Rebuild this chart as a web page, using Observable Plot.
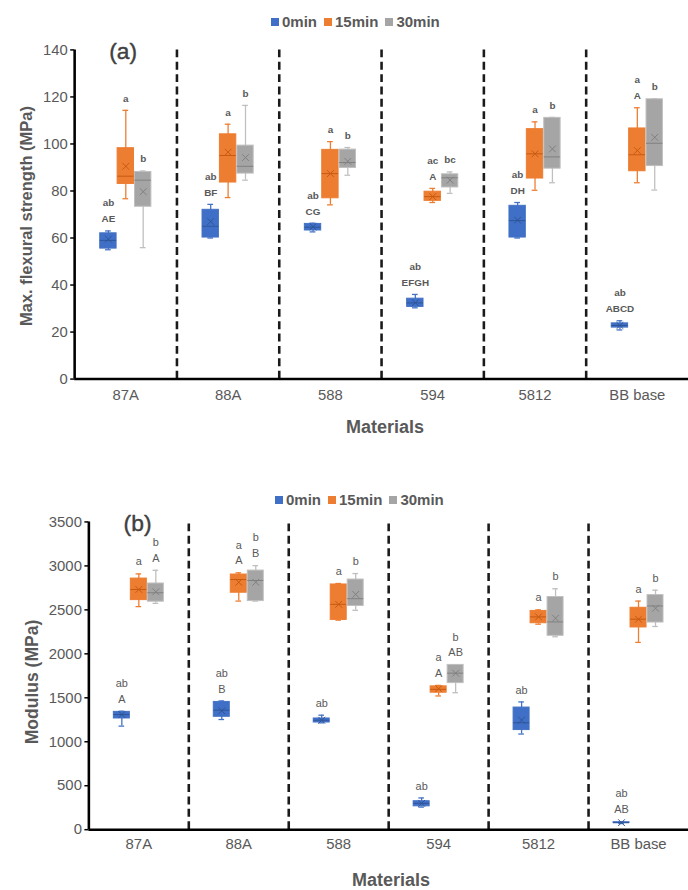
<!DOCTYPE html>
<html>
<head>
<meta charset="utf-8">
<script src="https://cdn.jsdelivr.net/npm/d3@7"></script>
<script src="https://cdn.jsdelivr.net/npm/@observablehq/plot@0.6"></script>
<style>
  html, body { margin: 0; padding: 0; background: #fff; overflow: hidden; }
  #wrap { position: relative; width: 688px; height: 890px; overflow: hidden; font-family: "Liberation Sans", Arial, sans-serif; }
  #wrap svg { display: block; }
  .legend { position: absolute; display: flex; align-items: center; font-weight: bold; font-size: 15px; color: #595959; white-space: nowrap; }
  .legend .item { display: flex; align-items: center; margin-right: 7px; }
  .legend .sw { width: 8px; height: 8px; margin-right: 3px; }
  .title { position: absolute; font-weight: bold; color: #595959; white-space: nowrap; transform: translate(-50%, -50%); }
  .ytitle { position: absolute; font-weight: bold; color: #595959; white-space: nowrap; transform: translate(-50%, -50%) rotate(-90deg); }
  svg g[aria-label="y-axis tick"] { stroke: #000; stroke-width: 1.5; }
  svg g[aria-label="y-axis"] line { stroke: #000; stroke-width: 1.5; }
</style>
</head>
<body>
<div id="wrap"></div>
<script>
// ---------- categories & series ----------
const materials = ["87A", "88A", "588", "594", "5812", "BB base"];
const seriesNames = ["0min", "15min", "30min"];
const seriesFill = ["#3F6FC6", "#ED7D31", "#A5A5A5"];
const seriesEdge = ["#4472C4", "#ED7D31", "#BFBFBF"];
const seriesMid = ["#2F5597", "#C55A11", "#808080"];

// ---------- (a) Max. flexural strength (MPa) ----------
const flexTicks = [0, 20, 40, 60, 80, 100, 120, 140];
// each row: [low whisker, Q1, median, Q3, high whisker, mean] per material
const flex0min = [
  [55.0, 55.5, 59.0, 62.0, 63.0, 59.5],
  [60.0, 60.2, 65.0, 72.0, 74.3, 67.0],
  [62.6, 63.2, 64.6, 66.0, 66.3, 64.8],
  [30.3, 30.7, 32.4, 34.2, 36.0, 32.5],
  [60.0, 60.2, 67.4, 73.7, 75.1, 67.6],
  [20.9, 21.9, 22.8, 23.7, 24.8, 22.8]
];
const flex15min = [
  [76.7, 83.0, 86.3, 98.2, 114.3, 90.5],
  [77.2, 83.6, 95.1, 104.1, 108.4, 96.5],
  [74.1, 76.9, 87.4, 97.5, 101.0, 87.4],
  [75.1, 75.8, 77.6, 79.7, 81.1, 77.6],
  [80.3, 85.3, 95.8, 106.3, 109.4, 95.8],
  [83.5, 88.4, 95.4, 106.6, 115.4, 97.2]
];
const flex30min = [
  [55.9, 73.3, 84.6, 88.1, 88.5, 79.7],
  [84.6, 87.4, 90.5, 99.3, 116.4, 94.2],
  [86.7, 89.8, 92.1, 97.6, 98.5, 92.6],
  [79.0, 81.5, 85.6, 87.1, 88.1, 84.6],
  [83.5, 89.5, 94.5, 111.1, 111.3, 97.9],
  [80.4, 90.6, 100.3, 119.0, 119.2, 102.8]
];
const flexLetters0min = [["ab", "AE"], ["ab", "BF"], ["ab", "CG"], ["ab", "EFGH"], ["ab", "DH"], ["ab", "ABCD"]];
const flexLetters15min = [["a"], ["a"], ["a"], ["ac", "A"], ["a"], ["a", "A"]];
const flexLetters30min = [["b"], ["b"], ["b"], ["bc"], ["b"], ["b"]];

// ---------- (b) Modulus (MPa) ----------
const modTicks = [0, 500, 1000, 1500, 2000, 2500, 3000, 3500];
const mod0min = [
  [1178, 1265, 1310, 1340, 1347, 1310],
  [1253, 1284, 1359, 1453, 1464, 1352],
  [1215, 1219, 1245, 1265, 1302, 1245],
  [257, 266, 300, 324, 361, 300],
  [1088, 1133, 1216, 1389, 1453, 1246],
  [70, 75, 80, 85, 90, 80]
];
const mod15min = [
  [2537, 2611, 2732, 2856, 2909, 2732],
  [2600, 2695, 2845, 2902, 2921, 2814],
  [2383, 2386, 2563, 2789, 2800, 2563],
  [1521, 1558, 1596, 1630, 1641, 1603],
  [2337, 2348, 2420, 2488, 2500, 2420],
  [2130, 2300, 2394, 2524, 2600, 2394]
];
const mod30min = [
  [2574, 2593, 2695, 2800, 2950, 2706],
  [2600, 2600, 2834, 2947, 3003, 2814],
  [2495, 2544, 2627, 2845, 2913, 2676],
  [1558, 1667, 1780, 1874, 1874, 1780],
  [2194, 2205, 2363, 2646, 2740, 2405],
  [2311, 2356, 2544, 2668, 2724, 2518]
];
const modLetters0min = [["ab", "A"], ["ab", "B"], ["ab"], ["ab"], ["ab"], ["ab", "AB"]];
const modLetters15min = [["a"], ["a", "A"], ["a"], ["a", "A"], ["a"], ["a"]];
const modLetters30min = [["b", "A"], ["b", "B"], ["b"], ["b", "AB"], ["b"], ["b"]];

// ---------- layout constants ----------
const OFFSET = [-0.17, 0, 0.17];
const HALF = 0.08;
const CAP = 0.028;

function boxMarks(statsBySeries, lettersBySeries, letterFont) {
  const marks = [];
  statsBySeries.forEach((stats, si) => {
    const data = stats.map((r, mi) => ({
      x: mi + OFFSET[si], lo: r[0], q1: r[1], med: r[2], q3: r[3], hi: r[4], mean: r[5],
      l1: lettersBySeries[si][mi][0], l2: lettersBySeries[si][mi][1]
    }));
    marks.push(
      Plot.ruleX(data, {x: "x", y1: "lo", y2: "hi", stroke: seriesEdge[si], strokeWidth: 1.3}),
      Plot.ruleY(data, {y: "hi", x1: d => d.x - CAP, x2: d => d.x + CAP, stroke: seriesEdge[si], strokeWidth: 1.3}),
      Plot.ruleY(data, {y: "lo", x1: d => d.x - CAP, x2: d => d.x + CAP, stroke: seriesEdge[si], strokeWidth: 1.3}),
      Plot.rectY(data, {x1: d => d.x - HALF, x2: d => d.x + HALF, y1: "q1", y2: "q3", fill: seriesFill[si], stroke: seriesEdge[si], strokeWidth: 1}),
      Plot.ruleY(data, {y: "med", x1: d => d.x - HALF, x2: d => d.x + HALF, stroke: seriesMid[si], strokeWidth: 1}),
      Plot.dot(data, {x: "x", y: "mean", symbol: "times", r: 3.2, stroke: seriesMid[si], strokeWidth: 1}),
      Plot.text(data, {x: "x", y: "hi", text: d => d.l2 ?? d.l1, dy: -12, fill: "#595959", ...letterFont}),
      Plot.text(data.filter(d => d.l2), {x: "x", y: "hi", text: "l1", dy: -28, fill: "#595959", ...letterFont})
    );
  });
  return marks;
}

function chart({width, height, marginTop, marginBottom, marginLeft, yMax, yTicks, stats, letters, letterFont, panel, tickPad}) {
  const dividers = materials.slice(1).map((_, i) => i + 0.5);
  return Plot.plot({
    width, height, marginTop, marginBottom, marginLeft, marginRight: 0,
    style: {fontFamily: "'Liberation Sans', Arial, sans-serif", fontSize: "15px", color: "#595959", background: "#fff", overflow: "visible"},
    x: {domain: [-0.5, materials.length - 0.5], ticks: materials.map((_, i) => i), tickFormat: i => materials[i], tickSize: 0, tickPadding: tickPad, label: null},
    y: {domain: [0, yMax], ticks: yTicks, tickFormat: d => String(d), tickSize: 4, tickPadding: 3, label: null},
    marks: [
      Plot.ruleX(dividers, {x: d => d, y1: 0, y2: yMax, stroke: "#1a1a1a", strokeWidth: 2.6, strokeDasharray: "8,4.5"}),
      ...boxMarks(stats, letters, letterFont),
      Plot.ruleX([-0.5], {y1: 0, y2: yMax, stroke: "#000", strokeWidth: 2.6}),
      Plot.ruleY([0], {stroke: "#000", strokeWidth: 2.6}),
      Plot.text([panel], {frameAnchor: "top-left", dx: 35, dy: -7, fontSize: 23, fill: "#404040", stroke: "#404040", strokeWidth: 0.4, textAnchor: "start", lineAnchor: "top"})
    ]
  });
}

const wrap = document.getElementById("wrap");

const chartA = chart({
  width: 696, height: 450, marginTop: 50, marginBottom: 67, marginLeft: 75,
  yMax: 140, yTicks: flexTicks,
  stats: [flex0min, flex15min, flex30min],
  letters: [flexLetters0min, flexLetters15min, flexLetters30min],
  letterFont: {fontSize: 10, fontWeight: "bold"}, panel: "(a)", tickPad: 11
});
const chartB = chart({
  width: 693, height: 440, marginTop: 77, marginBottom: 53, marginLeft: 89,
  yMax: 3500, yTicks: modTicks,
  stats: [mod0min, mod15min, mod30min],
  letters: [modLetters0min, modLetters15min, modLetters30min],
  letterFont: {fontSize: 11}, panel: "(b)", tickPad: 9
});
wrap.appendChild(chartA);
wrap.appendChild(chartB);

function legend(left, top) {
  const div = document.createElement("div");
  div.className = "legend";
  div.style.left = left + "px";
  div.style.top = top + "px";
  seriesNames.forEach((name, i) => {
    const item = document.createElement("span");
    item.className = "item";
    const sw = document.createElement("span");
    sw.className = "sw";
    sw.style.background = seriesFill[i];
    item.appendChild(sw);
    item.appendChild(document.createTextNode(name));
    div.appendChild(item);
  });
  wrap.appendChild(div);
}
legend(271, 13);
legend(275, 491);

function label(cls, text, x, y, size) {
  const d = document.createElement("div");
  d.className = cls;
  d.textContent = text;
  d.style.left = x + "px";
  d.style.top = y + "px";
  d.style.fontSize = size + "px";
  wrap.appendChild(d);
}
label("ytitle", "Max. flexural strength (MPa)", 26, 216, 16.5);
label("title", "Materials", 385, 427, 18);
label("ytitle", "Modulus (MPa)", 32, 682, 17.5);
label("title", "Materials", 391, 880, 18);
</script>
</body>
</html>
